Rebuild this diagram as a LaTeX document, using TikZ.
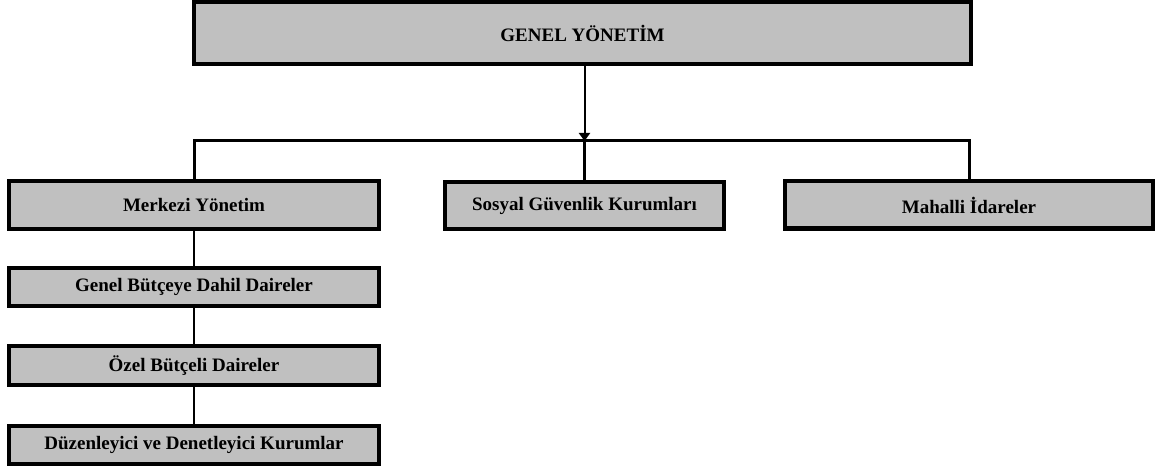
\documentclass[tikz,border=0pt]{standalone}
\usepackage{fontspec}
\setmainfont{Liberation Serif}
\usetikzlibrary{arrows.meta}
\definecolor{boxgray}{RGB}{192,192,192}
\begin{document}
\begin{tikzpicture}[x=1pt,y=-1pt,
  orgbox/.style={draw=black, line width=4pt, fill=boxgray, inner sep=0pt,
    font=\fontsize{19}{22}\selectfont\bfseries, anchor=center},
  conn/.style={draw=black, line width=2.5pt},
  bus/.style={draw=black, line width=3pt},
  arr/.style={draw=black, line width=2pt, -{Triangle[width=11pt,length=8pt]}}]
\useasboundingbox (0,0) rectangle (1171,468);
\node[orgbox, minimum width=777pt, minimum height=62pt] (top) at (582.5,33) {GENEL YÖNETİM};
\node[orgbox, minimum width=370pt, minimum height=48pt] (mk) at (194,205) {Merkezi Yönetim};
\node[orgbox, minimum width=279pt, minimum height=47pt] (sg) at (584.5,205.5) {Sosyal Güvenlik Kurumları};
\node[orgbox, minimum width=368pt, minimum height=47pt] (mh) at (969,205) {Mahalli İdareler};
\node[orgbox, minimum width=370pt, minimum height=38pt] (gb) at (194,287) {Genel Bütçeye Dahil Daireler};
\node[orgbox, minimum width=370pt, minimum height=39pt] (oz) at (194,365.5) {Özel Bütçeli Daireler};
\node[orgbox, minimum width=370pt, minimum height=38pt] (dz) at (194,445) {Düzenleyici ve Denetleyici Kurumlar};
\coordinate (bus) at (584.5,141);
\draw[bus] (mk.north) |- (bus) -| (mh.north);
\draw[conn] (bus) -- (sg.north);
\draw[arr] (top.south -| bus) -- (bus);
\draw[conn] (mk.south) -- (gb.north);
\draw[conn] (gb.south) -- (oz.north);
\draw[conn] (oz.south) -- (dz.north);
\end{tikzpicture}
\end{document}
